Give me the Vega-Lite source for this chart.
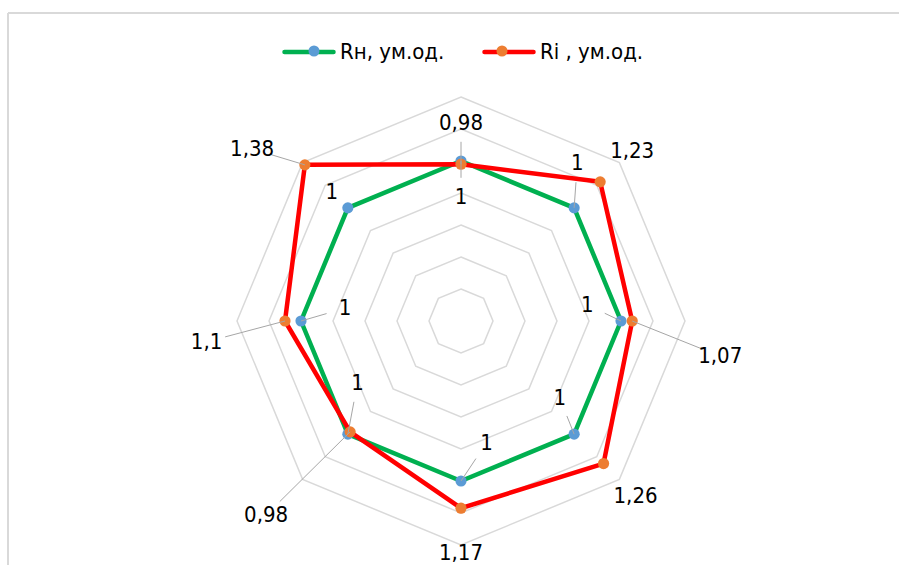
{
  "$schema": "https://vega.github.io/schema/vega-lite/v6.json",
  "width": 891,
  "height": 552,
  "padding": {"left": 8, "top": 13, "right": 0, "bottom": 0},
  "autosize": {"type": "none"},
  "background": "#ffffff",
  "config": {
    "view": {"stroke": "#d9d9d9", "strokeWidth": 2, "strokeDash": [891, 1443, 552, 0]},
    "font": "DejaVu Sans Condensed",
    "text": {"font": "DejaVu Sans Condensed", "fontSize": 22, "color": "#000000"},
    "legend": {"labelFont": "DejaVu Sans Condensed", "labelFontSize": 22, "labelColor": "#000000"}
  },
  "datasets": {
    "rings": [
      {"level": 0.2, "k": [0, 1, 2, 3, 4, 5, 6, 7]},
      {"level": 0.4, "k": [0, 1, 2, 3, 4, 5, 6, 7]},
      {"level": 0.6, "k": [0, 1, 2, 3, 4, 5, 6, 7]},
      {"level": 0.8, "k": [0, 1, 2, 3, 4, 5, 6, 7]},
      {"level": 1.0, "k": [0, 1, 2, 3, 4, 5, 6, 7]},
      {"level": 1.2, "k": [0, 1, 2, 3, 4, 5, 6, 7]},
      {"level": 1.4, "k": [0, 1, 2, 3, 4, 5, 6, 7]}
    ],
    "scores": [
      {"series": "Rн, ум.од.", "k": 0, "value": 1},
      {"series": "Rн, ум.од.", "k": 1, "value": 1},
      {"series": "Rн, ум.од.", "k": 2, "value": 1},
      {"series": "Rн, ум.од.", "k": 3, "value": 1},
      {"series": "Rн, ум.од.", "k": 4, "value": 1},
      {"series": "Rн, ум.од.", "k": 5, "value": 1},
      {"series": "Rн, ум.од.", "k": 6, "value": 1},
      {"series": "Rн, ум.од.", "k": 7, "value": 1},
      {"series": "Ri , ум.од.", "k": 0, "value": 0.98},
      {"series": "Ri , ум.од.", "k": 1, "value": 1.23},
      {"series": "Ri , ум.од.", "k": 2, "value": 1.07},
      {"series": "Ri , ум.од.", "k": 3, "value": 1.26},
      {"series": "Ri , ум.од.", "k": 4, "value": 1.17},
      {"series": "Ri , ум.од.", "k": 5, "value": 0.98},
      {"series": "Ri , ум.од.", "k": 6, "value": 1.1},
      {"series": "Ri , ум.од.", "k": 7, "value": 1.38}
    ]
  },
  "encoding": {
    "x": {"field": "x", "type": "quantitative", "axis": null,
          "scale": {"domain": [-2.83125, 2.7375], "nice": false, "zero": false}},
    "y": {"field": "y", "type": "quantitative", "axis": null,
          "scale": {"domain": [-1.525, 1.925], "nice": false, "zero": false}}
  },
  "layer": [
    {
      "description": "octagonal grid rings",
      "data": {"name": "rings"},
      "transform": [
        {"flatten": ["k"]},
        {"calculate": "datum.level * sin(datum.k * PI / 4)", "as": "x"},
        {"calculate": "datum.level * cos(datum.k * PI / 4)", "as": "y"}
      ],
      "mark": {"type": "line", "interpolate": "linear-closed", "color": "#d9d9d9", "strokeWidth": 1.5},
      "encoding": {
        "detail": {"field": "level"},
        "order": {"field": "k", "type": "quantitative"}
      }
    },
    {
      "description": "spokes from the centre to the outer ring",
      "data": {"name": "rings"},
      "transform": [
        {"filter": "datum.level === 1.4"},
        {"flatten": ["k"]},
        {"calculate": "datum.level * sin(datum.k * PI / 4)", "as": "ex"},
        {"calculate": "datum.level * cos(datum.k * PI / 4)", "as": "ey"}
      ],
      "mark": {"type": "rule", "color": "#d9d9d9", "strokeWidth": 1.5},
      "encoding": {
        "x": {"datum": 0},
        "y": {"datum": 0},
        "x2": {"field": "ex"},
        "y2": {"field": "ey"}
      }
    },
    {
      "description": "series outlines",
      "data": {"name": "scores"},
      "transform": [
        {"calculate": "datum.value * sin(datum.k * PI / 4)", "as": "x"},
        {"calculate": "datum.value * cos(datum.k * PI / 4)", "as": "y"}
      ],
      "mark": {"type": "line", "interpolate": "linear-closed", "strokeWidth": 4.5, "strokeJoin": "round"},
      "encoding": {
        "stroke": {
          "field": "series", "type": "nominal",
          "scale": {"range": ["#00b050", "#ff0000"]},
          "sort": ["Rн, ум.од.", "Ri , ум.од."],
          "legend": {
            "orient": "none", "legendX": 274, "legendY": 12, "direction": "horizontal",
            "title": null, "padding": 0, "symbolType": "stroke", "symbolSize": 2401,
            "symbolStrokeWidth": 4.5, "labelOffset": 4, "columnPadding": 30,
            "encode": {"symbols": {"update": {"strokeCap": {"value": "round"}}}}
          }
        },
        "order": {"field": "k", "type": "quantitative"}
      }
    },
    {
      "description": "series markers",
      "data": {"name": "scores"},
      "transform": [
        {"calculate": "datum.value * sin(datum.k * PI / 4)", "as": "x"},
        {"calculate": "datum.value * cos(datum.k * PI / 4)", "as": "y"}
      ],
      "mark": {"type": "point", "shape": "circle", "filled": true, "opacity": 1, "size": 125},
      "encoding": {
        "fill": {
          "field": "series", "type": "nominal",
          "scale": {"domain": ["Rн, ум.од.", "Ri , ум.од."], "range": ["#5b9bd5", "#ed7d31"]},
          "legend": {
            "orient": "none", "legendX": 274, "legendY": 27, "direction": "horizontal",
            "title": null, "padding": 0, "symbolType": "circle", "symbolSize": 121,
            "symbolStrokeWidth": 0, "symbolOpacity": 1, "symbolOffset": 21, "labelOffset": 0,
            "labelExpr": "''", "columnPadding": 145
          }
        }
      }
    },
    {
      "description": "leader lines from markers towards their value labels",
      "data": {"name": "scores"},
      "transform": [
        {"filter": "!(datum.series === 'Ri , ум.од.' && indexof([1, 3, 4], datum.k) >= 0) && !(datum.series === 'Rн, ум.од.' && datum.k === 7)"},
        {"calculate": "datum.value * sin(datum.k * PI / 4)", "as": "x"},
        {"calculate": "datum.value * cos(datum.k * PI / 4)", "as": "y"},
        {"calculate": "datum.series === 'Ri , ум.од.' ? [0, 0.2, 0.55, 0.2, 0, -0.525, -0.49, -0.33][datum.k] : [0, 0.02, -0.21, -0.09, 0.16, 0.06, 0.275, -0.1][datum.k]", "as": "ox"},
        {"calculate": "datum.series === 'Ri , ум.од.' ? [0.26, 0.19, -0.22, -0.2, -0.28, -0.52, -0.13, 0.1][datum.k] : [-0.225, 0.28, 0.1, 0.225, 0.24, 0.32, 0.08, 0.1][datum.k]", "as": "oy"},
        {"calculate": "max(0, 1 - 0.12 / sqrt(datum.ox * datum.ox + datum.oy * datum.oy))", "as": "f"},
        {"calculate": "datum.x + datum.ox * datum.f", "as": "ex"},
        {"calculate": "datum.y + datum.oy * datum.f", "as": "ey"}
      ],
      "mark": {"type": "rule", "color": "#a6a6a6", "strokeWidth": 1},
      "encoding": {
        "x2": {"field": "ex"},
        "y2": {"field": "ey"}
      }
    },
    {
      "description": "value labels",
      "data": {"name": "scores"},
      "transform": [
        {"calculate": "datum.value * sin(datum.k * PI / 4)", "as": "px"},
        {"calculate": "datum.value * cos(datum.k * PI / 4)", "as": "py"},
        {"calculate": "datum.px + (datum.series === 'Ri , ум.од.' ? [0, 0.2, 0.55, 0.2, 0, -0.525, -0.49, -0.33][datum.k] : [0, 0.02, -0.21, -0.09, 0.16, 0.06, 0.275, -0.1][datum.k])", "as": "x"},
        {"calculate": "datum.py + (datum.series === 'Ri , ум.од.' ? [0.26, 0.19, -0.22, -0.2, -0.28, -0.52, -0.13, 0.1][datum.k] : [-0.225, 0.28, 0.1, 0.225, 0.24, 0.32, 0.08, 0.1][datum.k])", "as": "y"},
        {"calculate": "replace(toString(datum.value), '.', ',')", "as": "label"}
      ],
      "mark": {"type": "text", "align": "center", "baseline": "middle"},
      "encoding": {
        "text": {"field": "label", "type": "nominal"}
      }
    }
  ]
}
